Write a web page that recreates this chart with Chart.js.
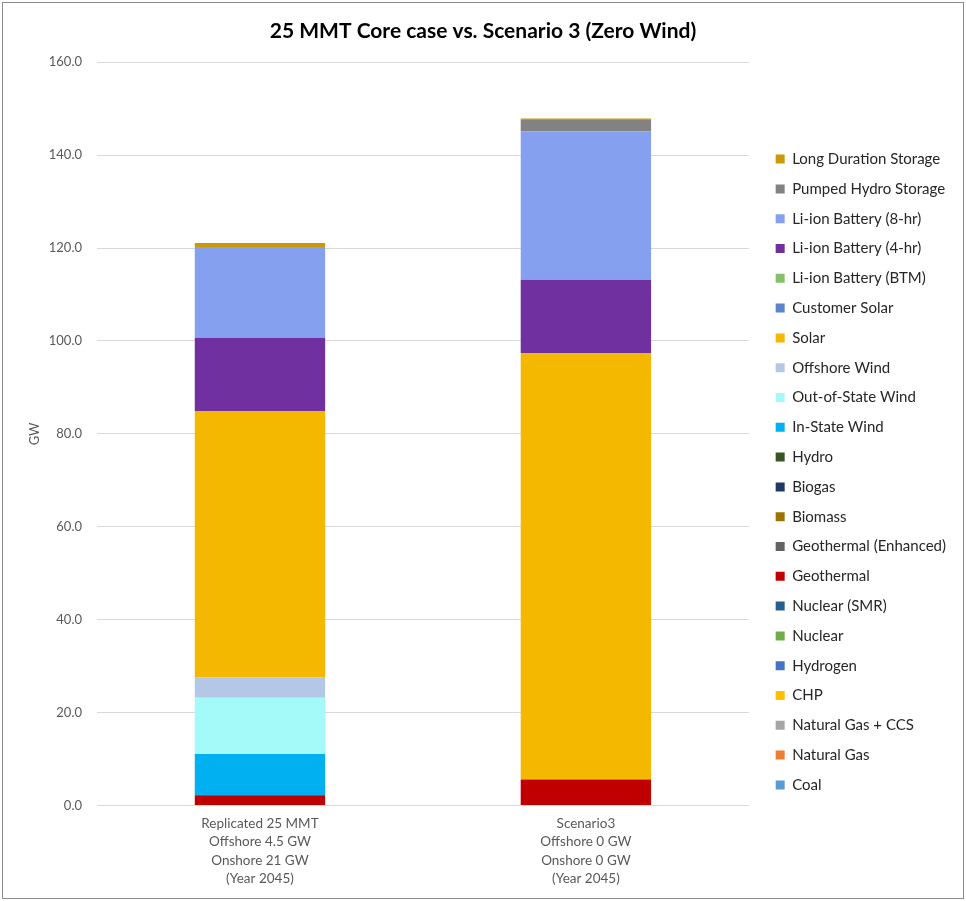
<!DOCTYPE html>
<html>
<head>
<meta charset="utf-8">
<script src="https://cdn.jsdelivr.net/npm/chart.js@4"></script>
<style>
  html, body { margin: 0; padding: 0; background: #fff; }
  #wrap { width: 962px; height: 897px; margin: 2px; border: 1px solid #8c8c8c; box-sizing: border-box; position: relative; }
</style>
</head>
<body>
<div id="wrap"><canvas id="myChart"></canvas></div>
<script>
// categorias (eje x)
const categorias = [
  ['Replicated 25 MMT', 'Offshore 4.5 GW', 'Onshore 21 GW', '(Year 2045)'],
  ['Scenario3', 'Offshore 0 GW', 'Onshore 0 GW', '(Year 2045)']
];

// series de abajo hacia arriba
const series = ['Coal', 'Natural Gas', 'Natural Gas + CCS', 'CHP', 'Hydrogen', 'Nuclear',
  'Nuclear (SMR)', 'Geothermal', 'Geothermal (Enhanced)', 'Biomass', 'Biogas', 'Hydro',
  'In-State Wind', 'Out-of-State Wind', 'Offshore Wind', 'Solar', 'Customer Solar',
  'Li-ion Battery (BTM)', 'Li-ion Battery (4-hr)', 'Li-ion Battery (8-hr)',
  'Pumped Hydro Storage', 'Long Duration Storage'];

const coal = [0, 0];
const gasNatural = [0, 0];
const gasCCS = [0, 0];
const chp = [0, 0];
const hidrogeno = [0, 0];
const nuclear = [0, 0];
const nuclearSMR = [0, 0];
const geotermica = [2.2, 5.6];
const geotermicaMejorada = [0, 0];
const biomasa = [0, 0];
const biogas = [0, 0];
const hidro = [0, 0];
const eolicaEstatal = [8.9, 0];
const eolicaFuera = [12.1, 0];
const eolicaMarina = [4.4, 0];
const solar = [57.3, 91.8];
const solarCliente = [0, 0];
const bateriaBTM = [0, 0];
const bateria4h = [15.8, 15.8];
const bateria8h = [19.5, 31.9];
const bombeo = [0, 2.6];
const largaDuracion = [0.9, 0.2];

const yTicks = [0, 20, 40, 60, 80, 100, 120, 140, 160];

const valores = [coal, gasNatural, gasCCS, chp, hidrogeno, nuclear, nuclearSMR, geotermica,
  geotermicaMejorada, biomasa, biogas, hidro, eolicaEstatal, eolicaFuera, eolicaMarina, solar,
  solarCliente, bateriaBTM, bateria4h, bateria8h, bombeo, largaDuracion];

const colores = ['#5B9BD5', '#ED7D31', '#A5A5A5', '#FFC000', '#4472C4', '#70AD47',
  '#255E91', '#C00000', '#636363', '#9C7400', '#203864', '#375623',
  '#00B0F0', '#A4FAF8', '#B4C7E7', '#F5B800', '#5B84CC',
  '#84C16A', '#7030A0', '#86A0F0', '#828282', '#C99A06'];

function grafico_barra() {
  const ctx = document.getElementById('myChart');

  new Chart(ctx, {
    type: 'bar',
    data: {
      labels: categorias,
      datasets: series.map((nombre, i) => ({
        label: nombre,
        data: valores[i],
        backgroundColor: colores[i],
        borderWidth: 0,
        barPercentage: 0.8,
        categoryPercentage: 0.5
      }))
    },
    options: {
      responsive: true,
      maintainAspectRatio: false,
      animation: false,
      layout: { padding: { left: 7, right: 7, top: 4, bottom: 9 } },
      plugins: {
        title: {
          display: true,
          text: '25 MMT Core case vs. Scenario 3 (Zero Wind)',
          color: '#000',
          font: { family: 'Lato', size: 21, weight: 'bold' },
          padding: { top: 12, bottom: 18 }
        },
        legend: {
          position: 'right',
          reverse: true,
          maxWidth: 240,
          title: { display: true, text: ' ', font: { size: 10 }, padding: 18 },
          labels: {
            boxWidth: 9,
            boxHeight: 9,
            padding: 14.8,
            color: '#262626',
            font: { family: 'Lato', size: 15 }
          }
        },
        tooltip: { enabled: false }
      },
      scales: {
        x: {
          stacked: true,
          grid: { display: false },
          border: { color: '#d9d9d9' },
          ticks: { color: '#595959', padding: 1, font: { family: 'Lato', size: 13.5, lineHeight: 1.36 } }
        },
        y: {
          stacked: true,
          min: 0,
          max: 160,
          afterBuildTicks: (eje) => { eje.ticks = yTicks.map(v => ({ value: v })); },
          afterFit: (eje) => { eje.width = 87; },
          grid: { color: '#d9d9d9', drawTicks: false },
          border: { display: false },
          ticks: {
            color: '#595959',
            padding: 15,
            font: { family: 'Lato', size: 13 },
            callback: (v) => v.toFixed(1)
          },
          title: {
            display: true,
            text: 'GW',
            color: '#595959',
            font: { family: 'Lato', size: 13 },
            padding: { top: 17, bottom: 6 }
          }
        },
        // espacio vacio entre el grafico y la leyenda
        espacio: {
          type: 'linear',
          position: 'right',
          grid: { display: false, drawTicks: false },
          border: { display: false },
          ticks: { display: false },
          afterFit: (s) => { s.width = 12; }
        }
      }
    }
  });
}

grafico_barra();
</script>
</body>
</html>
